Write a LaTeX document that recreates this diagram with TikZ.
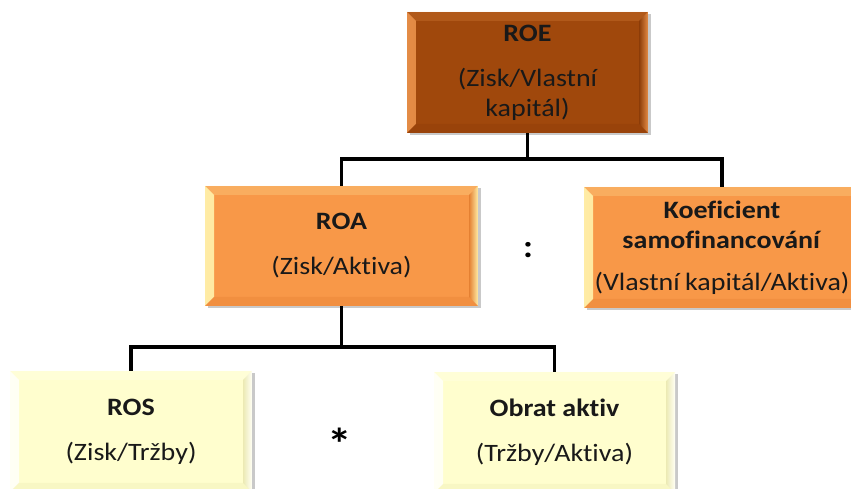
\documentclass[tikz,border=0pt]{standalone}
\usepackage{fontspec}
\setmainfont{Carlito}[FakeStretch=1.12,Ligatures=NoCommon]
\usetikzlibrary{shadows}
\definecolor{roefill}{RGB}{160,72,12}
\definecolor{roelight}{RGB}{228,140,70}
\definecolor{roedark}{RGB}{140,60,8}
\definecolor{orfill}{RGB}{248,152,72}
\definecolor{orlight}{RGB}{255,236,165}
\definecolor{ordark}{RGB}{228,128,50}
\definecolor{ylfill}{RGB}{255,254,206}
\definecolor{yllight}{RGB}{255,255,245}
\definecolor{yldark}{RGB}{236,234,180}
\definecolor{txt}{RGB}{25,25,25}
\tikzset{
  bevelbox/.style n args={3}{
    inner sep=0pt, align=center, text=txt,
    font=\fontsize{25}{30}\selectfont,
    fill=#1,
    drop shadow={shadow xshift=2.5pt, shadow yshift=-2.5pt, opacity=0.35, fill=black!60},
    path picture={
      \shade[left color=#2, right color=#1]
        (path picture bounding box.north west) -- ([xshift=9pt,yshift=-9pt]path picture bounding box.north west)
        -- ([xshift=9pt,yshift=9pt]path picture bounding box.south west) -- (path picture bounding box.south west) -- cycle;
      \shade[left color=#3, right color=#2]
        (path picture bounding box.north east) -- ([xshift=-9pt,yshift=-9pt]path picture bounding box.north east)
        -- ([xshift=-9pt,yshift=9pt]path picture bounding box.south east) -- (path picture bounding box.south east) -- cycle;
      \fill[#3, opacity=0.35]
        (path picture bounding box.south west) -- ([xshift=9pt,yshift=9pt]path picture bounding box.south west)
        -- ([xshift=-9pt,yshift=9pt]path picture bounding box.south east) -- (path picture bounding box.south east) -- cycle;
      \fill[#2, opacity=0.25]
        (path picture bounding box.north west) -- ([xshift=9pt,yshift=-9pt]path picture bounding box.north west)
        -- ([xshift=-9pt,yshift=-9pt]path picture bounding box.north east) -- (path picture bounding box.north east) -- cycle;
    }
  },
  conn/.style={line width=3.5pt, black},
  optext/.style={inner sep=0pt, text=black, font=\fontsize{32}{36}\selectfont\bfseries}
}
\begin{document}
\begin{tikzpicture}[x=1pt,y=1pt]
\useasboundingbox (0,0) rectangle (851,489);
\clip (0,0) rectangle (851,489);
\fill[white] (0,0) rectangle (851,489);

% junctions
\coordinate (j1) at (527.5,330);
\coordinate (j2) at (342.5,142);

\node[bevelbox={roefill}{roelight}{roedark}, minimum width=241pt, minimum height=121pt] (roe) at (527.5,416.5)
  {\textbf{ROE}\\[15pt](Zisk/Vlastní\\kapitál)};
\node[bevelbox={orfill}{orlight}{ordark}, minimum width=273pt, minimum height=120pt] (roa) at (341.5,243)
  {\textbf{ROA}\\[15pt](Zisk/Aktiva)};
\node[bevelbox={orfill}{orlight}{ordark}, minimum width=276pt, minimum height=121pt] (koef) at (722,241.5)
  {\textbf{Koeficient}\\\textbf{samofinancování}\\[12pt](Vlastní\kern-1pt\ kapitál/Aktiva)};
\node[bevelbox={ylfill}{yllight}{yldark}, minimum width=242pt, minimum height=121pt] (ros) at (131,57.5)
  {\textbf{ROS}\\[15pt](Zisk/Tržby)};
\node[bevelbox={ylfill}{yllight}{yldark}, minimum width=241pt, minimum height=121pt] (obrat) at (554.5,56.5)
  {\textbf{Obrat aktiv}\\[15pt](Tržby/Aktiva)};

% connectors from node to node
\draw[conn] (roe.south) -- (j1);
\draw[conn] (roa.north) |- (j1) -| (koef.north);
\draw[conn] (roa.south) -- (roa.south |- j2);
\draw[conn] (ros.north) |- (j2) -| (obrat.north);

\node[optext] (colon) at (528,239) {:};
\node[optext, font=\fontsize{44}{48}\selectfont\bfseries] (times) at (340,45) {*};
\end{tikzpicture}
\end{document}
